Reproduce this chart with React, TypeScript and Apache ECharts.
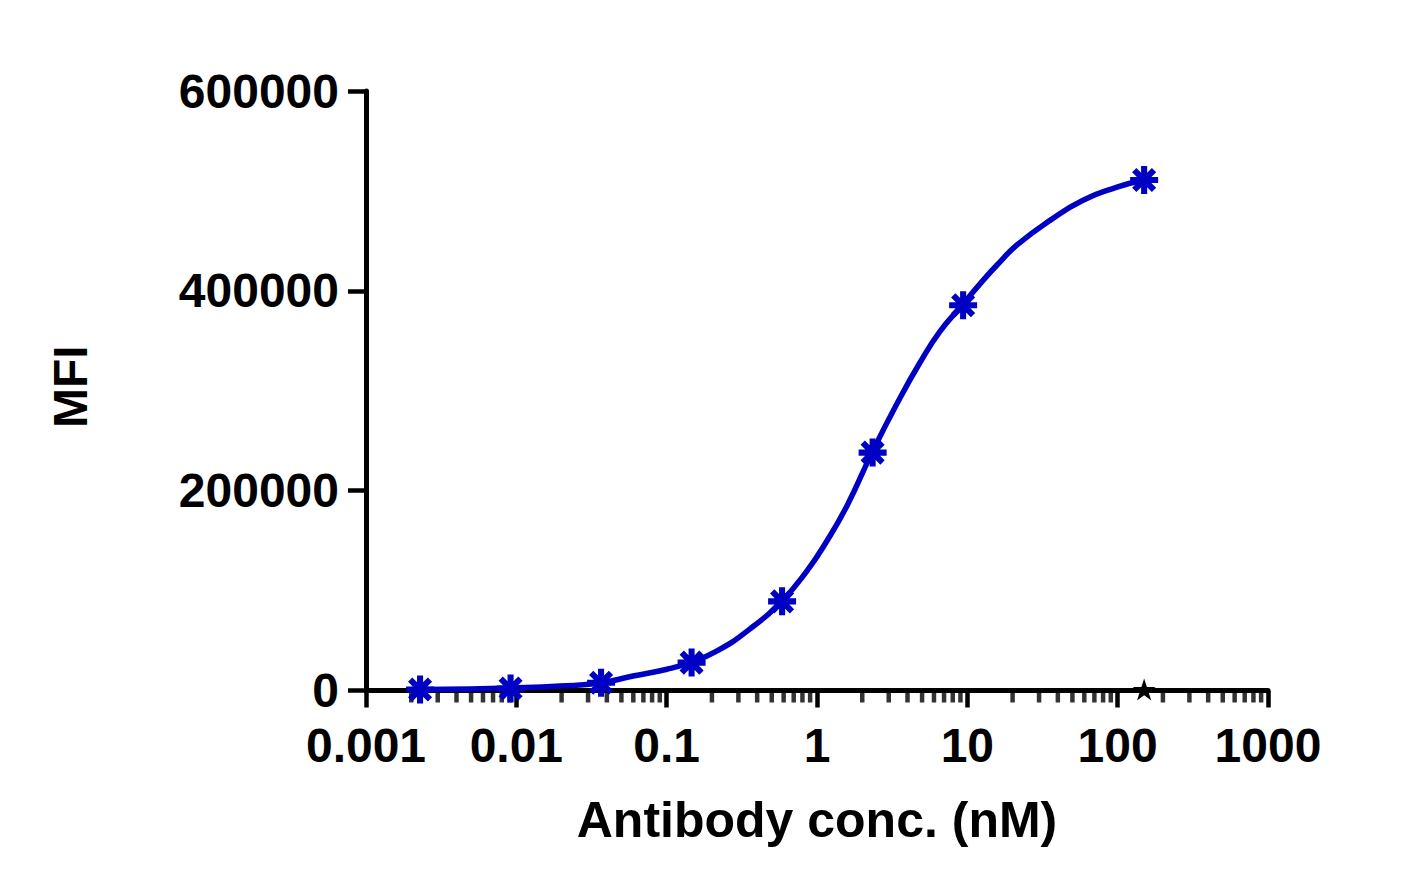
import { useEffect, useRef } from 'react';
import * as echarts from 'echarts';

// Antibody concentrations (nM) and measured MFI
const concentrations = [0.002289, 0.009155, 0.03662, 0.1465, 0.5859, 2.344, 9.375, 150];
const mfiValues = [1000, 2000, 7800, 27900, 89200, 238100, 385500, 511000];

// Control sample
const controlConc = [150];
const controlMfi = [1000];

// Fitted curve
const fitConc = [
    0.002286, 0.00492, 0.00908, 0.01952, 0.03602, 0.05971, 0.1005, 0.143, 0.2163, 0.3584,
    0.5851, 0.8582, 1.166, 1.584, 2.323, 3.407, 4.845, 6.581, 9.22, 12.72, 16.5, 21.4, 35.48,
    58.84, 99.0, 145.2,
];
const fitMfi = [
    1000, 1500, 2500, 4500, 7500, 14500, 21300, 27900, 39600, 61700,
    89700, 119800, 149900, 185000, 238100, 287200, 328300, 359400, 385500, 410500, 429000, 446000,
    470500, 490700, 503700, 510700,
];

const xTickLabels = ['0.001', '0.01', '0.1', '1', '10', '100', '1000'];
const decadeStarts = [0.001, 0.01, 0.1, 1, 10, 100];
const minorMultipliers = [2, 3, 4, 5, 6, 7, 8, 9];

const BLUE = '#0000c4';
const FONT = 'Liberation Sans, Arial, sans-serif';

const asteriskPath =
    'path://M-12,-2.6L12,-2.6L12,2.6L-12,2.6Z' +
    'M-2.6,-12L2.6,-12L2.6,12L-2.6,12Z' +
    'M-6.65,-10.32L10.32,6.65L6.65,10.32L-10.32,-6.65Z' +
    'M-10.32,6.65L6.65,-10.32L10.32,-6.65L-6.65,10.32Z';

const starPath =
    'path://M0,-100L22.45,-30.9L95.1,-30.9L36.3,11.8L58.8,80.9L0,38.2L-58.8,80.9L-36.3,11.8L-95.1,-30.9L-22.45,-30.9Z';

export default function App() {
    const chartRef = useRef<HTMLDivElement>(null);

    useEffect(() => {
        if (!chartRef.current) return;
        const chart = echarts.init(chartRef.current, undefined, { renderer: 'svg' });

        const minorTicks: number[][] = [];
        decadeStarts.forEach((d) => {
            minorMultipliers.forEach((m) => minorTicks.push([d * m, 0]));
        });

        const textStyle = { fontFamily: FONT, fontWeight: 'bold' as const, fontSize: 48, color: '#000' };

        chart.setOption({
            animation: false,
            backgroundColor: '#fff',
            grid: { left: 366, right: 151, top: 91, bottom: 203.5 },
            xAxis: {
                type: 'log',
                logBase: 10,
                min: 0.001,
                max: 1000,
                name: 'Antibody conc. (nM)',
                nameLocation: 'middle',
                nameGap: 104,
                nameTextStyle: { ...textStyle, fontSize: 50 },
                axisLine: { lineStyle: { color: '#000', width: 5 } },
                axisTick: { length: 17, lineStyle: { color: '#000', width: 4.5 } },
                minorTick: { show: false },
                splitLine: { show: false },
                axisLabel: {
                    ...textStyle,
                    margin: 31,
                    formatter: (v: number) => xTickLabels[Math.round(Math.log10(v)) + 3],
                },
            },
            yAxis: {
                type: 'value',
                min: 0,
                max: 600000,
                interval: 200000,
                name: 'MFI',
                nameLocation: 'middle',
                nameGap: 272,
                nameTextStyle: { ...textStyle, padding: [0, 0, 0, 8] },
                axisLine: { show: true, lineStyle: { color: '#000', width: 5 } },
                axisTick: { show: true, length: 18, lineStyle: { color: '#000', width: 4.5 } },
                splitLine: { show: false },
                axisLabel: { ...textStyle, margin: 27, formatter: (v: number) => String(v) },
            },
            series: [
                {
                    type: 'scatter',
                    data: minorTicks,
                    symbol: 'rect',
                    symbolSize: [4.5, 12],
                    symbolOffset: [0, 6],
                    itemStyle: { color: '#000' },
                    clip: false,
                    silent: true,
                    z: 1,
                },
                {
                    type: 'line',
                    data: fitConc.map((c, i) => [c, fitMfi[i]]),
                    showSymbol: false,
                    smooth: 0.5,
                    lineStyle: { color: BLUE, width: 5.5 },
                    clip: false,
                    z: 3,
                },
                {
                    type: 'scatter',
                    data: concentrations.map((c, i) => [c, mfiValues[i]]),
                    symbol: asteriskPath,
                    symbolSize: 28,
                    itemStyle: { color: BLUE, opacity: 1 },
                    clip: false,
                    z: 4,
                },
                {
                    type: 'scatter',
                    data: controlConc.map((c, i) => [c, controlMfi[i]]),
                    symbol: starPath,
                    symbolSize: [23, 22],
                    itemStyle: { color: '#000', opacity: 1 },
                    clip: false,
                    z: 5,
                },
            ],
        });

        return () => {
            chart.dispose();
        };
    }, []);

    return (
        <div
            ref={chartRef}
            style={{ position: 'fixed', left: 0, top: 0, width: 1419, height: 894, background: '#fff' }}
        />
    );
}
